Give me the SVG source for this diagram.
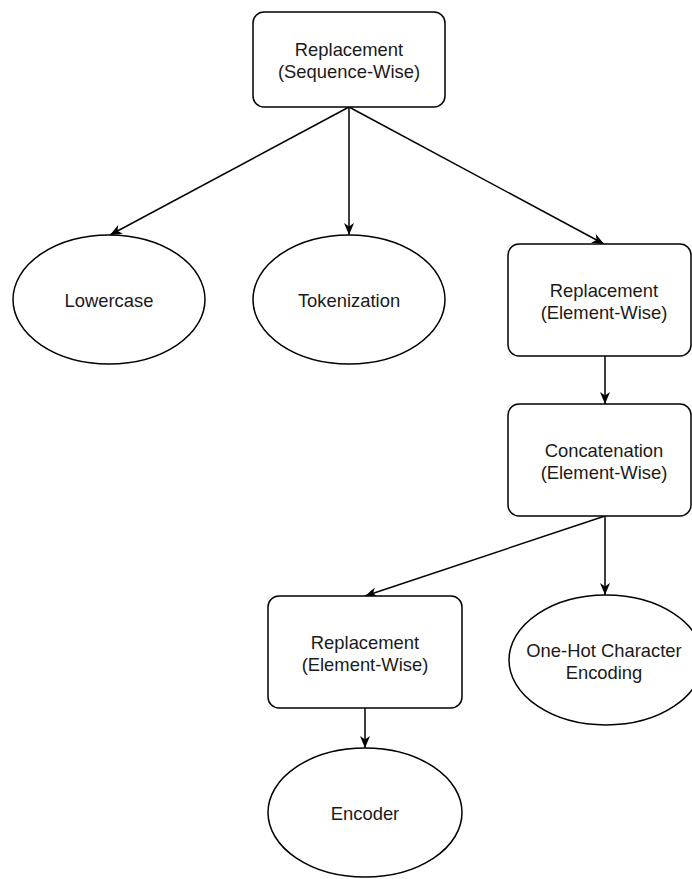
<svg xmlns="http://www.w3.org/2000/svg" width="692" height="879" viewBox="0 0 692 879">
<defs>
<style>
.node rect, .node ellipse { fill: #ffffff; stroke: #000000; stroke-width: 1.5; }
.node text { font-family: "Liberation Sans", Arial, Helvetica, sans-serif; font-size: 18.4px; fill: #1a1a1a; text-anchor: middle; }
.edge { fill: none; stroke: #000000; stroke-width: 1.5; marker-end: url(#arrow); }
</style>
<marker id="arrow" viewBox="0 0 12 10" refX="12" refY="5" markerWidth="12" markerHeight="10" markerUnits="userSpaceOnUse" orient="auto">
<path d="M0,0 L12,5 L0,10 L3.5,5 z" fill="#000000"/>
</marker>
</defs>
<rect width="692" height="879" fill="#ffffff"/>
<g id="connectors">
<line class="edge" x1="349" y1="107" x2="110" y2="235"/>
<line class="edge" x1="349" y1="107" x2="349" y2="235"/>
<line class="edge" x1="349" y1="107" x2="604" y2="244"/>
<line class="edge" x1="605" y1="356" x2="605" y2="404"/>
<line class="edge" x1="605" y1="516" x2="365" y2="596"/>
<line class="edge" x1="605" y1="516" x2="605" y2="595"/>
<line class="edge" x1="365" y1="708" x2="365" y2="748"/>
</g>
<g id="node-replacement-seq" class="node">
<rect x="253" y="12" width="192" height="95" rx="11" ry="11"/>
<text x="349" y="56">Replacement</text>
<text x="349" y="78">(Sequence-Wise)</text>
</g>
<g id="node-lowercase" class="node">
<ellipse cx="109" cy="299.5" rx="96" ry="64.5"/>
<text x="109" y="306.5">Lowercase</text>
</g>
<g id="node-tokenization" class="node">
<ellipse cx="349" cy="299.5" rx="96" ry="64.5"/>
<text x="349" y="306.5">Tokenization</text>
</g>
<g id="node-replacement-elem-1" class="node">
<rect x="508" y="244" width="183" height="112" rx="11" ry="11"/>
<text x="604" y="296.5">Replacement</text>
<text x="604" y="318.5">(Element-Wise)</text>
</g>
<g id="node-concatenation" class="node">
<rect x="508" y="404" width="183" height="112" rx="11" ry="11"/>
<text x="604" y="456.5">Concatenation</text>
<text x="604" y="478.5">(Element-Wise)</text>
</g>
<g id="node-replacement-elem-2" class="node">
<rect x="268" y="596" width="194" height="112" rx="11" ry="11"/>
<text x="365" y="648.5">Replacement</text>
<text x="365" y="670.5">(Element-Wise)</text>
</g>
<g id="node-onehot" class="node">
<ellipse cx="606" cy="660" rx="97" ry="65"/>
<text x="604" y="657">One-Hot Character</text>
<text x="604" y="679">Encoding</text>
</g>
<g id="node-encoder" class="node">
<ellipse cx="365" cy="812.5" rx="97" ry="64.5"/>
<text x="365" y="820">Encoder</text>
</g>
</svg>
